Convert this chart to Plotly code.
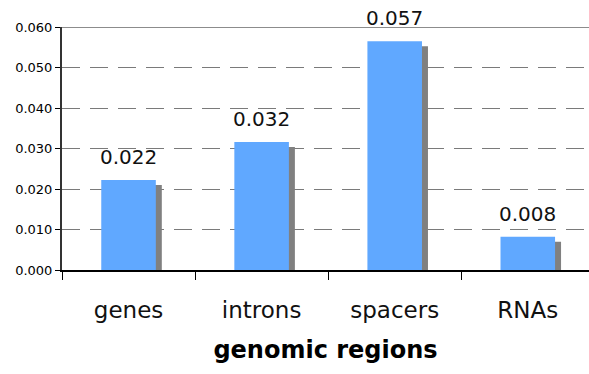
import plotly.graph_objects as go

categories = ["genes", "introns", "spacers", "RNAs"]
values = [0.0222, 0.0316, 0.0565, 0.0082]
labels = ["0.022", "0.032", "0.057", "0.008"]
y_ticks = [0.0, 0.01, 0.02, 0.03, 0.04, 0.05, 0.06]
y_tick_text = ["0.000", "0.010", "0.020", "0.030", "0.040", "0.050", "0.060"]

FONT = "DejaVu Sans"
BAR_W = 0.41
PX_PER_UNIT = 243.3 / 0.06  # y pixels per data unit
SHADOW_DX = 0.045  # category units
SHADOW_DY = 5 / PX_PER_UNIT

fig = go.Figure()
fig.add_trace(go.Bar(
    x=categories, y=[v - SHADOW_DY for v in values],
    width=BAR_W, offset=-BAR_W / 2 + SHADOW_DX,
    marker=dict(color="#808080", line=dict(width=0)),
    hoverinfo="skip", showlegend=False,
))
fig.add_trace(go.Bar(
    x=categories, y=values,
    width=BAR_W, offset=-BAR_W / 2,
    marker=dict(color="#60a8ff", line=dict(width=0)),
    showlegend=False,
))
for c, v, t in zip(categories, values, labels):
    fig.add_annotation(x=c, y=v, text=t, showarrow=False, yanchor="bottom",
                       yshift=9, font=dict(family=FONT, size=20, color="#111"))

fig.add_shape(type="line", xref="paper", yref="y", x0=0, x1=1, y0=0.06, y1=0.06,
              line=dict(color="#8c8c8c", width=2), layer="above")

fig.update_layout(
    width=589, height=374,
    margin=dict(l=62, r=0, t=27, b=104),
    paper_bgcolor="white", plot_bgcolor="white",
    barmode="overlay",
    font=dict(family=FONT, color="#000"),
    xaxis=dict(
        type="category", range=[-0.5, 3.46],
        tickson="boundaries", ticks="outside", ticklen=8, tickcolor="#000", tickwidth=1,
        showline=True, linecolor="#000", linewidth=1.5,
        showgrid=False, tickfont=dict(size=23, color="#111"),
        ticklabelstandoff=19,
        title=dict(text="<b>genomic regions</b>", font=dict(size=24, color="#000"), standoff=19),
    ),
    yaxis=dict(
        range=[0, 0.06], tickvals=y_ticks, ticktext=y_tick_text,
        ticks="outside", ticklen=5, tickcolor="#000", tickwidth=1,
        showline=True, linecolor="#333", linewidth=2,
        showgrid=True, gridcolor="#7a7a7a", gridwidth=1.3, griddash="18px,10px",
        zeroline=False, tickfont=dict(size=13, color="#000"),
    ),
)
fig.write_html("out.html", config={"displayModeBar": False},
               post_script="document.body.style.margin='0';document.body.style.overflow='hidden';")
